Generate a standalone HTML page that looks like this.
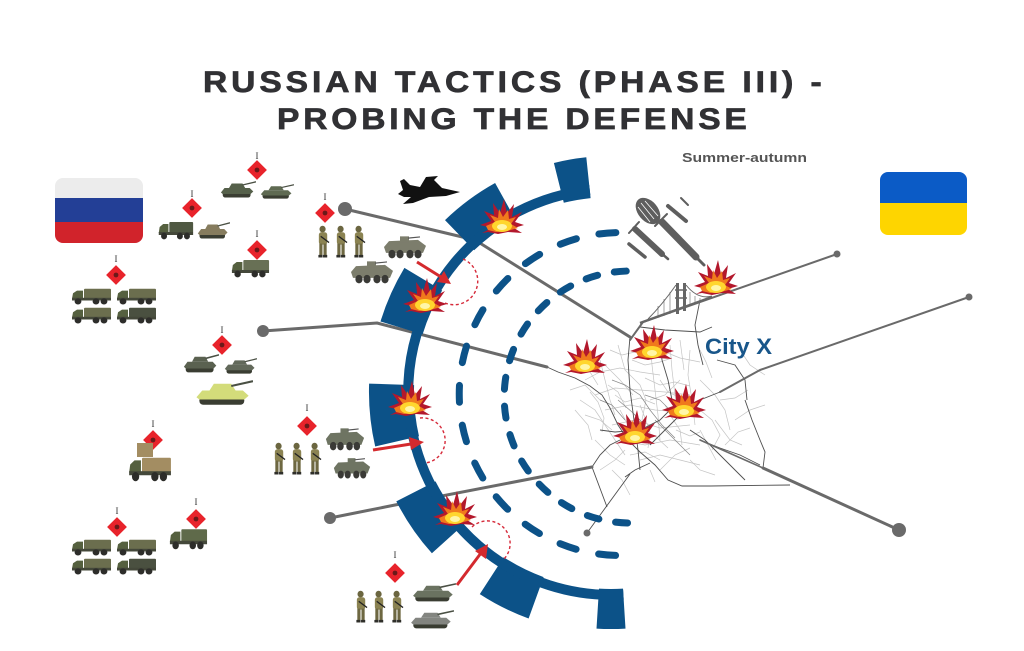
<!DOCTYPE html>
<html><head><meta charset="utf-8"><style>
html,body{margin:0;padding:0;background:#fff;}
svg{display:block;}
</style></head><body>
<svg width="1024" height="651" viewBox="0 0 1024 651" xmlns="http://www.w3.org/2000/svg">
<defs>
<symbol id="boom" viewBox="-24 -24 48 38">
<polygon points="-22,4 -11,0 -18,-10 -8,-6 -9,-18 -2,-8 2,-22 5,-8 12,-17 10,-4 20,-9 13,1 22,4 12,7 20,12 6,11 -4,13 -14,11 -20,12 -10,7" fill="#b3182c"/>
<polygon points="-16,5 -7,1 -12,-6 -4,-3 -3,-12 1,-4 6,-11 7,-2 14,-4 9,3 16,7 5,10 -6,11 -14,9" fill="#f07a1c"/>
<ellipse cx="0" cy="5" rx="10" ry="6" fill="#ffd62e"/>
<ellipse cx="0" cy="6" rx="5" ry="3" fill="#fff6a8"/>
</symbol>
<symbol id="tank" viewBox="0 0 40 18" preserveAspectRatio="none">
<rect x="3" y="11" width="31" height="5.5" rx="2.7" fill="#3a3d32"/>
<polygon points="1,11.5 5,7 33,7 37,10.5 34,13 3,13" fill="currentColor"/>
<polygon points="10,7 13,2.5 25,2.5 28,7" fill="currentColor"/>
<line x1="25" y1="4" x2="40" y2="0.8" stroke="#4a5044" stroke-width="1.4"/>
</symbol>
<symbol id="btr" viewBox="0 0 44 22" preserveAspectRatio="none">
<polygon points="1,11 6,6 35,5 43,10 40,16 3,16" fill="currentColor"/>
<rect x="17" y="2" width="9" height="5" fill="currentColor"/>
<line x1="25" y1="3.5" x2="37" y2="2.5" stroke="#555" stroke-width="1"/>
<circle cx="9" cy="17" r="3.6" fill="#3a3a36"/><circle cx="17" cy="17" r="3.6" fill="#3a3a36"/>
<circle cx="27" cy="17" r="3.6" fill="#3a3a36"/><circle cx="35" cy="17" r="3.6" fill="#3a3a36"/>
</symbol>
<symbol id="truck" viewBox="0 0 42 20" preserveAspectRatio="none">
<rect x="14" y="2" width="27" height="11" rx="1" fill="currentColor"/>
<polygon points="2,13 3,7 7,4 13,4 13,13" fill="#55603f"/>
<rect x="2" y="12" width="39" height="3" fill="#44483a"/>
<circle cx="8" cy="16" r="3.4" fill="#2d2d2a"/><circle cx="26" cy="16" r="3.4" fill="#2d2d2a"/><circle cx="34" cy="16" r="3.4" fill="#2d2d2a"/>
</symbol>
<symbol id="sol" viewBox="0 0 14 32" preserveAspectRatio="none">
<circle cx="6" cy="4" r="3.3" fill="#6b6640"/>
<rect x="2" y="7" width="9" height="12" rx="2.5" fill="#8b8352"/>
<rect x="2.5" y="18" width="3.4" height="12" fill="#6e6842"/>
<rect x="7" y="18" width="3.4" height="12" fill="#6e6842"/>
<rect x="1.5" y="29" width="4.5" height="2.5" fill="#2f2f2a"/>
<rect x="6.5" y="29" width="4.5" height="2.5" fill="#2f2f2a"/>
<line x1="4" y1="11" x2="13" y2="17" stroke="#222" stroke-width="1.3"/>
</symbol>
<symbol id="dia" viewBox="-10 -10 20 20">
<rect x="-7" y="-7" width="14" height="14" transform="rotate(45)" fill="#e8232b"/>
<circle r="2.4" fill="#6a1a1a"/>
</symbol>
<clipPath id="rf"><rect x="55" y="178" width="88" height="65" rx="8"/></clipPath>
<clipPath id="uf"><rect x="880" y="172" width="87" height="63" rx="8"/></clipPath>
</defs>

<rect width="1024" height="651" fill="#fff"/>

<!-- Title -->
<g font-family="Liberation Sans, sans-serif" font-weight="bold" font-size="30" fill="#313134" stroke="#313134" stroke-width="0.7">
<text transform="translate(203,92) scale(1.12,1)" letter-spacing="3.5">RUSSIAN TACTICS (PHASE III) -</text>
<text transform="translate(277,129) scale(1.12,1)" letter-spacing="3.4">PROBING THE DEFENSE</text>
</g>
<text x="682" y="162" textLength="125" lengthAdjust="spacingAndGlyphs" font-family="Liberation Sans, sans-serif" font-weight="bold" font-size="13" fill="#555">Summer-autumn</text>

<!-- Flags -->
<g clip-path="url(#rf)">
<rect x="55" y="178" width="88" height="21" fill="#ececec"/>
<rect x="55" y="198" width="88" height="25" fill="#233f96"/>
<rect x="55" y="222" width="88" height="21" fill="#d1232b"/>
</g>
<g clip-path="url(#uf)">
<rect x="880" y="172" width="87" height="32" fill="#0b5bc6"/>
<rect x="880" y="203" width="87" height="32" fill="#fed500"/>
</g>

<!-- City map -->
<g fill="none" stroke="#c4c4c4" stroke-width="0.7">
<path d="M585,380 L600,372 L620,368 L640,372 L660,375"/>
<path d="M595,395 L615,388 L640,390 L665,392 L690,395"/>
<path d="M605,410 L630,405 L655,410 L680,412"/>
<path d="M612,425 L635,420 L660,428 L690,425"/>
<path d="M620,440 L645,445 L670,440 L700,445"/>
<path d="M600,360 L605,380 L610,400 L615,415"/>
<path d="M650,340 L652,365 L655,390 L658,415 L660,440"/>
<path d="M670,345 L672,370 L675,395 L678,420"/>
<path d="M690,350 L688,375 L692,400 L695,425"/>
<path d="M610,350 L622,355 L635,352 L648,356"/>
<path d="M580,400 L595,410 L605,425 L615,440 L625,455"/>
<path d="M640,460 L660,455 L680,460 L700,465"/>
<path d="M660,350 L680,358 L700,362"/>
<path d="M595,440 L610,455 L625,465"/>
<path d="M700,380 L715,395 L725,410 L730,430"/>
<path d="M570,390 L585,385 L600,400"/>
<path d="M660,470 L675,455 L690,448"/>
<path d="M605,365 L620,380 L633,395"/>
<path d="M680,380 L665,395 L650,400"/>
<path d="M715,420 L730,440 L742,445"/>
<path d="M735,420 L750,410 L765,405"/>
<path d="M740,350 L750,365 L765,375"/>
<path d="M600,470 L615,460 L625,450"/>
<path d="M618,345 L625,370 L640,385 L646,400 L642,420"/>
<path d="M585,415 L600,420 L612,430"/>
<path d="M700,410 L712,420 L720,435 L712,450"/>
<path d="M575,365 L590,372 L598,385"/>
<path d="M660,380 L668,392 L685,400 L700,410"/>
<path d="M590,392 L598,402 L604,418 L602,432"/>
<path d="M615,395 L625,402 L640,398 L655,404"/>
<path d="M620,410 L628,425 L626,440"/>
<path d="M640,405 L645,418 L650,432 L648,448"/>
<path d="M665,405 L672,418 L680,430 L682,445"/>
<path d="M608,385 L618,392 L626,408"/>
<path d="M632,360 L645,365 L660,362 L672,358"/>
<path d="M680,340 L682,355 L684,370"/>
<path d="M700,350 L706,362 L712,378"/>
<path d="M720,400 L735,398 L748,390"/>
<path d="M725,445 L738,432 L750,428"/>
<path d="M690,460 L700,470 L715,475"/>
<path d="M612,470 L622,480 L630,495"/>
<path d="M575,410 L588,425 L592,440"/>
<path d="M645,378 L660,385 L675,382 L690,386"/>
<path d="M625,430 L640,438 L655,436 L668,448"/>
<path d="M700,430 L708,445 L716,460"/>
<path d="M650,470 L655,482"/>
<path d="M676,430 L690,436 L700,432"/>
<path d="M630,455 L645,452 L660,460"/>
</g>
<g fill="none" stroke="#888" stroke-width="0.7">
<path d="M612,380 L625,385 L640,395 L650,410 L662,425 L675,438"/>
<path d="M645,395 L660,400 L672,412"/>
<path d="M618,400 L632,412 L645,425"/>
<path d="M655,420 L667,432 L680,445 L690,455"/>
<path d="M600,400 L612,405 L625,420"/>
</g>
<g fill="none" stroke="#4e4e4e" stroke-width="0.9">
<path d="M547,367 L558,372 L575,378 L590,386 L602,395 L610,408 L618,425 L628,440 L640,452 L655,465 L668,480 L682,486 L710,486 L790,485"/>
<path d="M630,337 L628,360 L630,390 L634,420 L638,450 L640,470"/>
<path d="M640,327 L665,330 L700,332 L712,327"/>
<path d="M700,300 L695,325 L698,345 L703,365"/>
<path d="M720,392 L700,400 L680,415 L665,430 L650,445"/>
<path d="M690,430 L705,440 L720,455 L735,470 L745,480"/>
<path d="M600,430 L615,432 L640,430 L660,420 L675,405"/>
<path d="M592,467 L600,455 L610,445 L620,440"/>
<path d="M700,440 L720,448 L740,455 L760,465"/>
<path d="M745,400 L752,420 L760,440 L765,452 L763,468"/>
<path d="M717,360 L735,365 L745,380 L747,400"/>
<path d="M625,477 L635,470 L650,463"/>
<path d="M592,467 L607,507"/>
<path d="M630,474 L587,533"/>
<path d="M660,340 L662,360 L668,380 L672,400"/>
</g>

<!-- Grey connector lines -->
<g fill="none" stroke="#6a6a6a" stroke-linecap="round" stroke-linejoin="round">
<polyline points="345,209 475,240 630,337" stroke-width="3"/>
<polyline points="263,331 377,323 547,367" stroke-width="3"/>
<polyline points="330,518 395,505 592,467" stroke-width="3"/>
<polyline points="899,530 763,468" stroke-width="3"/>
<polyline points="763,468 700,440" stroke-width="1.6"/>
<polyline points="837,254 643,322 630,340" stroke-width="2"/>
<polyline points="969,297 760,370 720,392" stroke-width="2"/>
</g>
<g fill="#6a6a6a">
<circle cx="345" cy="209" r="7"/>
<circle cx="263" cy="331" r="6"/>
<circle cx="330" cy="518" r="6"/>
<circle cx="899" cy="530" r="7"/>
<circle cx="837" cy="254" r="3.5"/>
<circle cx="969" cy="297" r="3.5"/>
<circle cx="587" cy="533" r="3.5"/>
</g>

<!-- Blue defensive arc -->
<g fill="#0c5288">
<path d="M553.9,163 A236,236 0 0 1 586.3,157.3 L590.6,198.1 A195,195 0 0 0 563.8,202.8 Z"/>
<path d="M445,220.1 A239,239 0 0 1 495.1,183 L515.5,219.7 A197,197 0 0 0 474.1,250.3 Z"/>
<path d="M380.5,321.5 A241,241 0 0 1 404.4,267.9 L442.1,290.5 A197,197 0 0 0 422.6,334.4 Z"/>
<path d="M375.2,446.5 A242,242 0 0 1 369.1,383.6 L414.1,385.1 A197,197 0 0 0 419,436.3 Z"/>
<path d="M431.9,553.3 A241,241 0 0 1 396.3,501.4 L435.5,481.4 A197,197 0 0 0 464.6,523.8 Z"/>
<path d="M528.6,618.5 A241,241 0 0 1 479.8,594.1 L503.7,557.2 A197,197 0 0 0 543.6,577.1 Z"/>
<path d="M625.5,628.6 A237,237 0 0 1 596.5,628.6 L599,588.6 A197,197 0 0 0 623,588.6 Z"/>
</g>
<path d="M589.8,190.1 A203,203 0 0 0 623.4,594.6" fill="none" stroke="#0c5288" stroke-width="10"/>
<path d="M620.8,232.5 A161.5,161.5 0 1 0 620.8,555.5" fill="none" stroke="#0c5288" stroke-width="7" stroke-linecap="round" stroke-dasharray="17 23" stroke-dashoffset="-5"/>
<path d="M630.2,271 A126,126 0 1 0 630.2,523" fill="none" stroke="#0c5288" stroke-width="7" stroke-linecap="round" stroke-dasharray="12 17" stroke-dashoffset="-4"/>

<!-- Red probes -->
<g fill="none" stroke="#d62a3a" stroke-width="1.4" stroke-dasharray="3 2.5">
<path d="M463,259 A23.5,23.5 0 0 1 445,303"/>
<path d="M420,418 A22,22 0 1 1 425,463"/>
<path d="M472,527 A21,21 0 0 1 503,560"/>
</g>
<g stroke="#d42a2e" stroke-width="3" fill="#d42a2e">
<line x1="417" y1="262" x2="441" y2="277"/>
<polygon points="451,284 437,282 444,271" stroke="none"/>
<line x1="373" y1="450" x2="411" y2="444"/>
<polygon points="424,442 411,450 409,437" stroke="none"/>
<line x1="457" y1="585" x2="481" y2="553"/>
<polygon points="488,544 486,559 475,551" stroke="none"/>
</g>

<!-- Explosions -->
<use href="#boom" x="478" y="197" width="48" height="38"/>
<use href="#boom" x="401" y="276" width="48" height="38"/>
<use href="#boom" x="386" y="379" width="48" height="38"/>
<use href="#boom" x="431" y="489" width="48" height="38"/>
<use href="#boom" x="692" y="258" width="48" height="38"/>
<use href="#boom" x="628" y="323" width="48" height="38"/>
<use href="#boom" x="561" y="337" width="48" height="38"/>
<use href="#boom" x="660" y="382" width="48" height="38"/>
<use href="#boom" x="611" y="408" width="48" height="38"/>

<!-- City X label -->
<text x="705" y="354" textLength="67" lengthAdjust="spacingAndGlyphs" font-family="Liberation Sans, sans-serif" font-weight="bold" font-size="22" fill="#18568a">City X</text>

<!-- Jet -->
<polygon points="460,192 442,188 434,180 438,176 426,177 420,187 410,185 404,179 400,181 403,190 398,194 404,197 411,197 403,204 413,203 429,197 446,196" fill="#111"/>

<!-- Missiles -->
<ellipse cx="648" cy="211" rx="10" ry="15" transform="rotate(-40 648 211)" fill="#5e5e5e"/>
<g stroke="#fff" stroke-width="0.8"><line x1="641" y1="203" x2="654" y2="219"/><line x1="645" y1="201" x2="658" y2="216"/><line x1="638" y1="207" x2="650" y2="222"/></g>
<g stroke="#5e5e5e" stroke-linecap="round" fill="none">
<line x1="662" y1="222" x2="696" y2="257" stroke-width="7"/>
<line x1="694" y1="255" x2="704" y2="265" stroke-width="3"/>
<line x1="655" y1="226" x2="667" y2="214" stroke-width="2"/>
<line x1="635" y1="229" x2="662" y2="254" stroke-width="6"/>
<line x1="660" y1="252" x2="668" y2="259" stroke-width="2.5"/>
<line x1="629" y1="233" x2="639" y2="222" stroke-width="2"/>
<line x1="668" y1="206" x2="686" y2="221" stroke-width="4"/>
<line x1="629" y1="244" x2="645" y2="257" stroke-width="3.5"/>
<line x1="681" y1="198" x2="688" y2="205" stroke-width="2"/>
</g>

<!-- Bridge -->
<g stroke="#666" fill="none">
<line x1="640" y1="323" x2="712" y2="297" stroke-width="2.5"/>
<rect x="676" y="283" width="3" height="31" fill="#666" stroke="none"/>
<rect x="683" y="283" width="3" height="28" fill="#666" stroke="none"/>
<path d="M686,285 Q698,300 712,296" stroke-width="1"/>
<path d="M676,285 Q662,305 648,319" stroke-width="1"/>
<line x1="675" y1="290" x2="687" y2="290" stroke-width="1.5"/>
<line x1="675" y1="298" x2="687" y2="298" stroke-width="1.5"/>
<g stroke-width="0.6"><line x1="690" y1="292" x2="690" y2="306"/><line x1="695" y1="296" x2="695" y2="304"/><line x1="700" y1="298" x2="700" y2="302"/><line x1="670" y1="292" x2="670" y2="314"/><line x1="664" y1="299" x2="664" y2="316"/><line x1="658" y1="306" x2="658" y2="318"/></g>
</g>

<!-- Units -->
<g font-family="Liberation Serif, serif" font-size="9" fill="#333" text-anchor="middle">
<text x="257" y="159">I</text>
<text x="192" y="197">I</text>
<text x="257" y="237">I</text>
<text x="325" y="200">I</text>
<text x="116" y="262">I</text>
<text x="222" y="333">I</text>
<text x="153" y="427">I</text>
<text x="307" y="411">I</text>
<text x="117" y="514">I</text>
<text x="196" y="505">I</text>
<text x="395" y="558">I</text>
</g>
<use href="#dia" x="247" y="160" width="20" height="20"/>
<use href="#dia" x="182" y="198" width="20" height="20"/>
<use href="#dia" x="247" y="240" width="20" height="20"/>
<use href="#dia" x="315" y="203" width="20" height="20"/>
<use href="#dia" x="106" y="265" width="20" height="20"/>
<use href="#dia" x="212" y="335" width="20" height="20"/>
<use href="#dia" x="143" y="430" width="20" height="20"/>
<use href="#dia" x="297" y="416" width="20" height="20"/>
<use href="#dia" x="107" y="517" width="20" height="20"/>
<use href="#dia" x="186" y="509" width="20" height="20"/>
<use href="#dia" x="385" y="563" width="20" height="20"/>

<!-- group 1 -->
<use href="#tank" x="220" y="181" width="36" height="18" color="#55604a"/>
<use href="#tank" x="260" y="184" width="34" height="16" color="#5f6a52"/>
<!-- group 2 -->
<use href="#truck" x="157" y="220" width="37" height="20" color="#4f5842"/>
<use href="#tank" x="197" y="222" width="33" height="18" color="#867c5e"/>
<!-- group 3 -->
<use href="#truck" x="230" y="258" width="40" height="20" color="#687055"/>
<!-- group 4 -->
<use href="#sol" x="317" y="225" width="13" height="33"/>
<use href="#sol" x="335" y="225" width="13" height="33"/>
<use href="#sol" x="353" y="225" width="13" height="33"/>
<use href="#btr" x="383" y="234" width="44" height="26" color="#7c7d6c"/>
<use href="#btr" x="350" y="259" width="44" height="26" color="#7c7d6c"/>
<!-- group 5 -->
<use href="#truck" x="70" y="287" width="42" height="18" color="#6b6e4e"/>
<use href="#truck" x="115" y="287" width="42" height="18" color="#6b6e4e"/>
<use href="#truck" x="70" y="306" width="42" height="18" color="#6b6e4e"/>
<use href="#truck" x="115" y="306" width="42" height="18" color="#4a5040"/>
<!-- group 6 -->
<use href="#tank" x="183" y="354" width="36" height="20" color="#5a6150"/>
<use href="#tank" x="224" y="358" width="33" height="17" color="#62695a"/>
<use href="#tank" x="195" y="380" width="58" height="27" color="#d3dc7a"/>
<!-- group 7 -->
<use href="#truck" x="127" y="455" width="45" height="27" color="#a38d62"/>
<rect x="137" y="443" width="16" height="14" fill="#a38d62"/>
<!-- group 8 -->
<use href="#sol" x="273" y="442" width="13" height="33"/>
<use href="#sol" x="291" y="442" width="13" height="33"/>
<use href="#sol" x="309" y="442" width="13" height="33"/>
<use href="#btr" x="325" y="426" width="40" height="26" color="#6e7462"/>
<use href="#btr" x="333" y="456" width="38" height="24" color="#6e7462"/>
<!-- group 9 -->
<use href="#truck" x="70" y="538" width="42" height="18" color="#6b6e4e"/>
<use href="#truck" x="115" y="538" width="42" height="18" color="#6b6e4e"/>
<use href="#truck" x="70" y="557" width="42" height="18" color="#6b6e4e"/>
<use href="#truck" x="115" y="557" width="42" height="18" color="#4a5040"/>
<!-- group 10 -->
<use href="#truck" x="168" y="527" width="40" height="23" color="#5f6a4a"/>
<!-- group 11 -->
<use href="#sol" x="355" y="590" width="13" height="33"/>
<use href="#sol" x="373" y="590" width="13" height="33"/>
<use href="#sol" x="391" y="590" width="13" height="33"/>
<use href="#tank" x="412" y="583" width="44" height="20" color="#6a7260"/>
<use href="#tank" x="410" y="610" width="44" height="20" color="#838580"/>
</svg>
</body></html>
